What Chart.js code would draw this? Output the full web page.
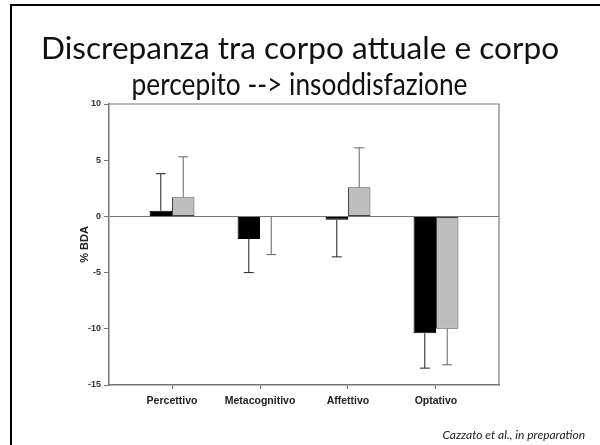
<!DOCTYPE html>
<html>
<head>
<meta charset="utf-8">
<script src="https://cdn.jsdelivr.net/npm/chart.js@4"></script>
<style>
  body { margin: 0; background: #fff; }
  #slide { position: relative; width: 600px; height: 445px; overflow: hidden; background: #fff; }
  #frame { position: absolute; left: 10px; top: 4px; width: 620px; height: 460px;
           border-top: 2px solid #000; border-left: 2px solid #000; }
  .tline { position: absolute; left: 0; width: 600px; text-align: center;
           font-family: Lato, "Open Sans", sans-serif; font-size: 30px; line-height: 36px; color: #111; }
  .tline span { display: inline-block; transform-origin: center; white-space: nowrap; }
  #cite { position: absolute; right: 15px; top: 427px; font-family: Lato, sans-serif;
          font-style: italic; font-size: 12px; color: #222; }
  canvas { position: absolute; left: 0; top: 0; }
</style>
</head>
<body>
<div id="slide">
  <div id="frame"></div>
  <canvas id="chart" width="600" height="445"></canvas>
  <div class="tline" style="top:29px"><span data-w="518">Discrepanza tra corpo attuale e corpo</span></div>
  <div class="tline" style="top:65px"><span data-w="336">percepito --&gt; insoddisfazione</span></div>
  <div id="cite">Cazzato et al., in preparation</div>
</div>
<script>
// categories and values
const categories = ["Percettivo", "Metacognitivo", "Affettivo", "Optativo"];
const blackValues = [0.5, -2.0, -0.3, -10.4];
const grayValues = [1.7, 0.0, 2.6, -10.0];
// error bars, signed: + draws upward, - draws downward
const blackErrors = [3.3, -3.0, -3.3, -3.1];
const grayErrors = [3.6, -3.4, 3.5, -3.2];
const yTicks = [-15, -10, -5, 0, 5, 10];

// squeeze the title lines to the widths of the original slide font
document.querySelectorAll(".tline span").forEach((s) => {
  const w = s.getBoundingClientRect().width;
  s.style.transform = `scaleX(${s.dataset.w / w})`;
});

const toPoints = (vals) => vals.map((v, i) => ({ x: i + 1, y: v }));

// draws one-sided error bars with a small cap
const errorBars = {
  id: "errorBars",
  afterDatasetsDraw(chart) {
    const ctx = chart.ctx;
    const y = chart.scales.y;
    chart.data.datasets.forEach((ds, di) => {
      const meta = chart.getDatasetMeta(di);
      meta.data.forEach((bar, i) => {
        const from = y.getPixelForValue(ds.data[i].y);
        const to = y.getPixelForValue(ds.data[i].y + ds.errors[i]);
        ctx.save();
        ctx.strokeStyle = ds.errorColor;
        ctx.lineWidth = 1;
        ctx.beginPath();
        ctx.moveTo(bar.x, from);
        ctx.lineTo(bar.x, to);
        ctx.moveTo(bar.x - 5, to);
        ctx.lineTo(bar.x + 5, to);
        ctx.stroke();
        ctx.restore();
      });
    });
  }
};

// top and right sides of the plot box
const plotBox = {
  id: "plotBox",
  beforeDatasetsDraw(chart) {
    const { ctx, chartArea: a } = chart;
    ctx.save();
    ctx.strokeStyle = "#777";
    ctx.lineWidth = 1.2;
    ctx.beginPath();
    ctx.moveTo(a.left, a.top);
    ctx.lineTo(a.right, a.top);
    ctx.lineTo(a.right, a.bottom);
    ctx.stroke();
    ctx.restore();
  }
};

new Chart(document.getElementById("chart"), {
  type: "bar",
  data: {
    datasets: [
      {
        data: toPoints(blackValues),
        errors: blackErrors,
        errorColor: "#222",
        backgroundColor: "#000",
        borderColor: "#000",
        borderWidth: 1,
        borderSkipped: false,
      },
      {
        data: toPoints(grayValues),
        errors: grayErrors,
        errorColor: "#666",
        backgroundColor: "#bebebe",
        borderColor: "#444",
        borderWidth: 1,
        borderSkipped: false,
      },
    ],
  },
  options: {
    responsive: false,
    animation: false,
    categoryPercentage: 0.51,
    barPercentage: 1.0,
    layout: { padding: { left: 78, top: 104, right: 101, bottom: 0 } },
    plugins: { legend: { display: false }, tooltip: { enabled: false } },
    scales: {
      x: {
        type: "linear",
        offset: false,
        min: 0.284,
        max: 4.716,
        afterFit: (s) => { s.height = 60; },
        afterBuildTicks: (s) => { s.ticks = categories.map((c, i) => ({ value: i + 1 })); },
        ticks: {
          callback: (v) => categories[v - 1] || "",
          color: "#222",
          font: { family: "Liberation Sans, Arial", size: 10.5, weight: "bold" },
          padding: 6,
          maxRotation: 0,
          autoSkip: false,
        },
        grid: { offset: false, drawOnChartArea: false, tickColor: "#777", tickLength: 4 },
        border: { color: "#777", width: 1.5 },
      },
      y: {
        min: -15,
        max: 10,
        afterFit: (s) => { s.width = 31; },
        afterBuildTicks: (s) => { s.ticks = yTicks.map((v) => ({ value: v })); },
        ticks: {
          color: "#333",
          font: { family: "Liberation Sans, Arial", size: 9, weight: "bold" },
          padding: 3,
        },
        grid: {
          color: (c) => (c.tick && c.tick.value === 0 ? "#777" : "transparent"),
          tickColor: "#777",
          tickLength: 5,
        },
        border: { color: "#777", width: 1.5 },
        title: {
          display: true,
          text: "% BDA",
          color: "#222",
          font: { family: "Liberation Sans, Arial", size: 11, weight: "bold" },
          padding: { top: 0, bottom: 0 },
        },
      },
    },
  },
  plugins: [errorBars, plotBox],
});
</script>
</body>
</html>
